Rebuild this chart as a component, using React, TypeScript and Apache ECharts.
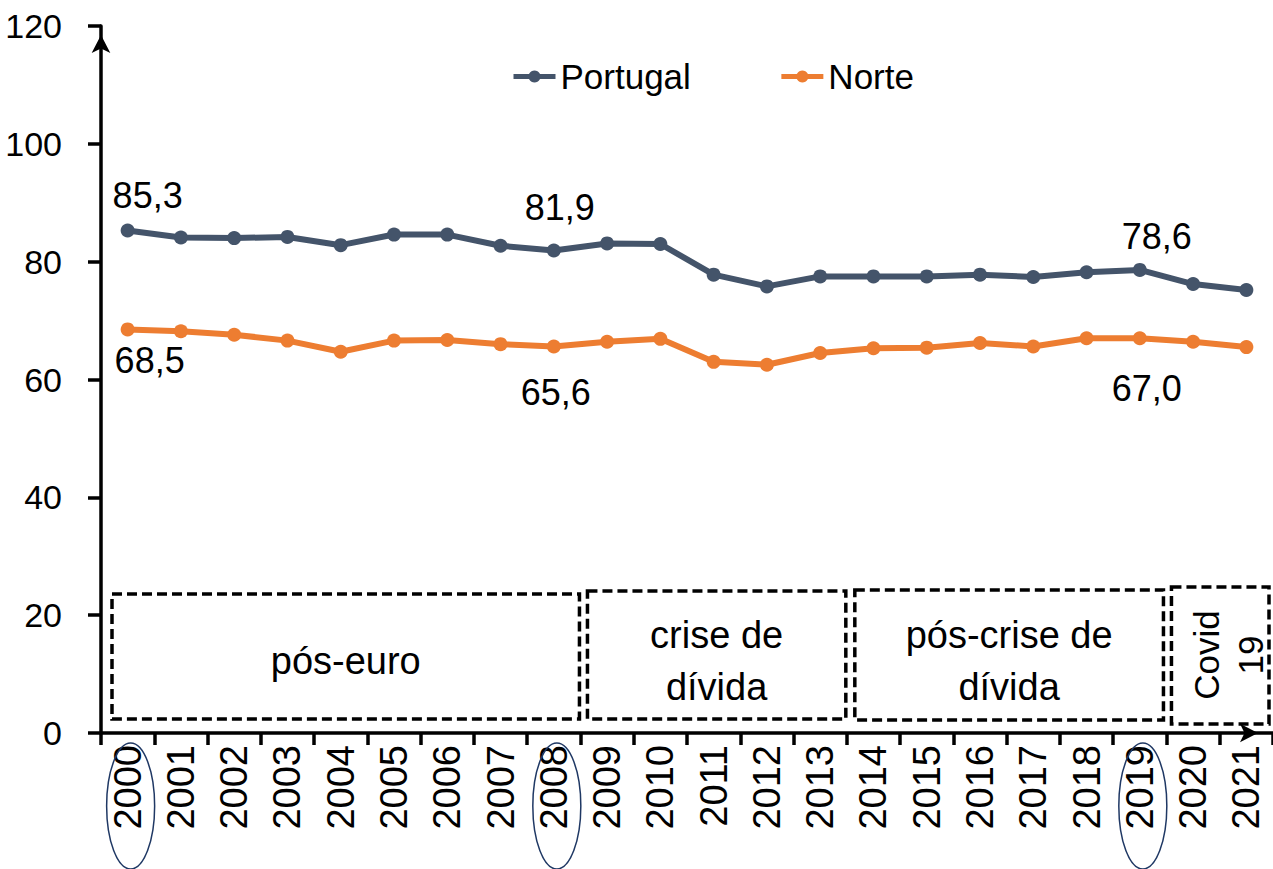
import React, { useEffect, useRef } from 'react';
import * as echarts from 'echarts';

const FONT = "'Liberation Sans', Arial, Helvetica, sans-serif";

const years = ['2000', '2001', '2002', '2003', '2004', '2005', '2006', '2007', '2008', '2009', '2010',
  '2011', '2012', '2013', '2014', '2015', '2016', '2017', '2018', '2019', '2020', '2021'];
const portugal = [85.3, 84.1, 84.0, 84.2, 82.8, 84.6, 84.6, 82.7, 81.9, 83.1, 83.0,
  77.8, 75.8, 77.5, 77.5, 77.5, 77.8, 77.4, 78.2, 78.6, 76.2, 75.2];
const norte = [68.5, 68.2, 67.6, 66.6, 64.7, 66.6, 66.7, 66.0, 65.6, 66.4, 66.9,
  63.0, 62.5, 64.5, 65.3, 65.4, 66.2, 65.6, 67.0, 67.0, 66.4, 65.5];
const highlightYears = ['2000', '2008', '2019'];
const periodLabels = ['pós-euro', 'crise de\ndívida', 'pós-crise de\ndívida', 'Covid\n19'];
const periodStart = ['2000', '2009', '2014', '2020'];
const periodEnd = ['2008', '2013', '2019', '2021'];

const PT_COLOR = '#44546A';
const NO_COLOR = '#ED7D31';

const fmt = (p: any) => Number(p.value).toFixed(1).replace('.', ',');

export default function App() {
  const ref = useRef<HTMLDivElement>(null);
  useEffect(() => {
    const chart = echarts.init(ref.current!, null, { renderer: 'svg' });

    const ptDist = [10, 18, 8];
    const ptOff = [[20, 0], [6, 0], [17, 0]];
    const noDist = [6, 21, 25];
    const noOff = [[22, 0], [2, 0], [7, 0]];
    const labelBase = { show: true, fontSize: 36, color: '#000', fontFamily: FONT, formatter: fmt };

    const mk = (arr: number[], pos: string, dist: number[], off: number[][]) =>
      arr.map((v, i) => {
        const k = highlightYears.indexOf(years[i]);
        if (k < 0) return v;
        return { value: v, label: { ...labelBase, position: pos, distance: dist[k], offset: off[k] } };
      });

    chart.setOption({
      animation: false,
      backgroundColor: '#fff',
      grid: { left: 101, top: 26, width: 1176, height: 707, containLabel: false },
      legend: {
        data: ['Portugal', 'Norte'],
        left: 506,
        top: 54,
        itemWidth: 42,
        itemHeight: 15,
        itemGap: 88,
        lineStyle: { width: 5 },
        textStyle: { fontSize: 35, color: '#000', fontFamily: FONT },
      },
      xAxis: {
        type: 'category',
        data: years,
        boundaryGap: true,
        axisLine: {
          lineStyle: { color: '#000', width: 3.5 },
          symbol: ['none', 'arrow'],
          symbolSize: [14, 18],
          symbolOffset: [0, -15],
        },
        axisTick: { show: true, length: 12, lineStyle: { color: '#000', width: 3.5 } },
        axisLabel: { rotate: 90, interval: 0, fontSize: 38, margin: 12, color: '#000', fontFamily: FONT },
        splitLine: { show: false },
      },
      yAxis: {
        type: 'value',
        min: 0,
        max: 120,
        interval: 20,
        axisLine: {
          show: true,
          lineStyle: { color: '#000', width: 3.5 },
          symbol: ['none', 'arrow'],
          symbolSize: [14, 18],
          symbolOffset: [0, -9],
        },
        axisTick: { show: true, length: 13, lineStyle: { color: '#000', width: 3.5 } },
        axisLabel: { fontSize: 34, margin: 39, color: '#000', fontFamily: FONT },
        splitLine: { show: false },
      },
      series: [
        {
          name: 'Portugal',
          type: 'line',
          data: mk(portugal, 'top', ptDist, ptOff),
          symbol: 'circle',
          symbolSize: 14,
          lineStyle: { color: PT_COLOR, width: 6 },
          itemStyle: { color: PT_COLOR },
          z: 3,
        },
        {
          name: 'Norte',
          type: 'line',
          data: mk(norte, 'bottom', noDist, noOff),
          symbol: 'circle',
          symbolSize: 14,
          lineStyle: { color: NO_COLOR, width: 6 },
          itemStyle: { color: NO_COLOR },
          z: 3,
        },
      ],
    });

    const cx = (y: string) => chart.convertToPixel({ xAxisIndex: 0 }, y) as number;
    const catW = cx(years[1]) - cx(years[0]);
    const boxInsetL = [11, 7, 8, 5];
    const boxInsetR = [1, 1, 3, 4];
    const boxTop = [594, 591, 590, 587];
    const boxBot = [719, 719, 720, 724];
    const elements: any[] = [];
    periodLabels.forEach((lab, k) => {
      const x1 = cx(periodStart[k]) - catW / 2 + boxInsetL[k];
      const x2 = cx(periodEnd[k]) + catW / 2 - boxInsetR[k];
      elements.push({
        type: 'rect',
        shape: { x: x1, y: boxTop[k], width: x2 - x1, height: boxBot[k] - boxTop[k] },
        style: { fill: 'none', stroke: '#000', lineWidth: 3.5, lineDash: [10, 5] },
        z: 10,
      });
      const rotated = k === 3;
      elements.push({
        type: 'text',
        x: rotated ? 1228 : (x1 + x2) / 2,
        y: rotated ? 655 : 661,
        rotation: rotated ? Math.PI / 2 : 0,
        style: {
          text: lab,
          fontSize: rotated ? 35 : 38,
          lineHeight: rotated ? 44 : 52,
          fontFamily: FONT,
          fill: '#000',
          align: 'center',
          verticalAlign: 'middle',
        },
        z: 11,
      });
    });
    highlightYears.forEach((y) => {
      elements.push({
        type: 'ellipse',
        shape: { cx: cx(y) + 3, cy: 806, rx: 24, ry: 63 },
        style: { fill: 'none', stroke: '#1F3864', lineWidth: 1.5 },
        z: 12,
      });
    });
    chart.setOption({ graphic: { elements } });

    return () => chart.dispose();
  }, []);

  return (
    <div
      ref={ref}
      style={{ position: 'fixed', left: 0, top: 0, width: 1273, height: 869, background: '#fff' }}
    />
  );
}
